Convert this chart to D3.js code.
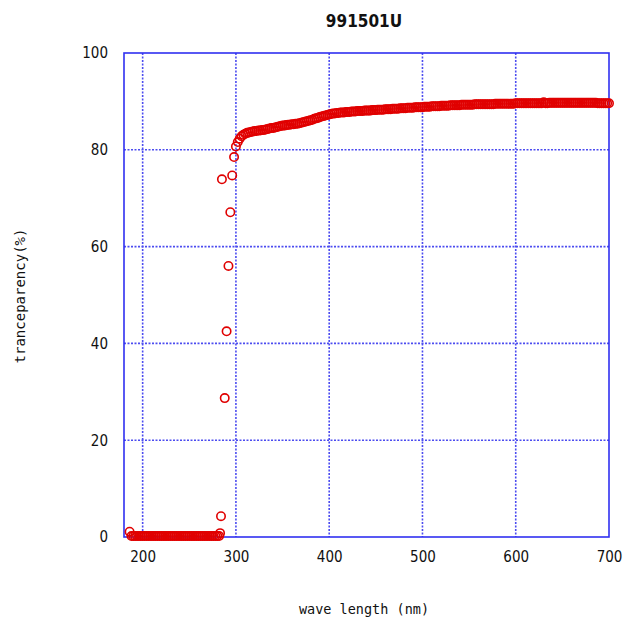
<!DOCTYPE html>
<html>
<head>
<meta charset="utf-8">
<script src="https://cdn.jsdelivr.net/npm/d3@7"></script>
<style>
  body { margin: 0; background: #fff; }
</style>
</head>
<body>
<svg id="chart" width="632" height="623"></svg>
<script>
// steep edge + UV cut-off region, wavelengths read one by one
const edgeWave = [186, 283, 284, 285, 288, 290, 292, 294, 296, 298];
const edgeTrans = [1.1, 0.8, 4.3, 73.9, 28.7, 42.5, 56.0, 67.1, 74.7, 78.5];

// blocked region 188..282 nm (2 nm sampling)
const lowWave = d3.range(188, 283, 2);
const lowTrans = [
  0.2, 0.2, 0.2, 0.2, 0.2, 0.2, 0.2, 0.2, 0.2, 0.2,
  0.2, 0.2, 0.2, 0.2, 0.2, 0.2, 0.2, 0.2, 0.2, 0.2,
  0.2, 0.2, 0.2, 0.2, 0.2, 0.2, 0.2, 0.2, 0.2, 0.2,
  0.2, 0.2, 0.2, 0.2, 0.2, 0.2, 0.2, 0.2, 0.2, 0.2,
  0.2, 0.2, 0.2, 0.2, 0.2, 0.2, 0.2, 0.2
];

// plateau 300..700 nm (2 nm sampling)
const highWave = d3.range(300, 701, 2);
const highTrans = [
  80.7, 81.6, 82.3, 82.8, 83.1, 83.3, 83.5, 83.6, 83.7, 83.8,
  83.9, 83.9, 84.0, 84.0, 84.1, 84.1, 84.2, 84.3, 84.4, 84.5,
  84.5, 84.6, 84.7, 84.8, 84.9, 85.0, 85.0, 85.1, 85.2, 85.2,
  85.3, 85.3, 85.4, 85.4, 85.5, 85.6, 85.7, 85.8, 85.9, 86.0,
  86.1, 86.2, 86.4, 86.5, 86.6, 86.8, 86.9, 87.0, 87.1, 87.2,
  87.3, 87.4, 87.5, 87.5, 87.6, 87.6, 87.7, 87.7, 87.7, 87.8,
  87.8, 87.8, 87.9, 87.9, 87.9, 88.0, 88.0, 88.0, 88.0, 88.1,
  88.1, 88.1, 88.1, 88.2, 88.2, 88.2, 88.3, 88.3, 88.3, 88.3,
  88.4, 88.4, 88.4, 88.4, 88.5, 88.5, 88.5, 88.5, 88.6, 88.6,
  88.6, 88.6, 88.7, 88.7, 88.7, 88.7, 88.8, 88.8, 88.8, 88.8,
  88.8, 88.9, 88.9, 88.9, 88.9, 89.0, 89.0, 89.0, 89.0, 89.0,
  89.1, 89.1, 89.1, 89.1, 89.1, 89.2, 89.2, 89.2, 89.2, 89.2,
  89.2, 89.3, 89.3, 89.3, 89.3, 89.3, 89.3, 89.3, 89.4, 89.4,
  89.4, 89.4, 89.4, 89.4, 89.4, 89.4, 89.4, 89.4, 89.4, 89.5,
  89.5, 89.5, 89.5, 89.5, 89.5, 89.5, 89.5, 89.5, 89.5, 89.5,
  89.6, 89.6, 89.6, 89.6, 89.6, 89.6, 89.6, 89.6, 89.6, 89.6,
  89.6, 89.6, 89.6, 89.6, 89.6, 89.8, 89.6, 89.6, 89.7, 89.7,
  89.7, 89.7, 89.7, 89.7, 89.7, 89.7, 89.7, 89.7, 89.7, 89.7,
  89.7, 89.7, 89.7, 89.7, 89.7, 89.7, 89.7, 89.7, 89.7, 89.7,
  89.7, 89.7, 89.7, 89.7, 89.6, 89.6, 89.6, 89.6, 89.6, 89.6,
  89.6
];

const xTicks = [200, 300, 400, 500, 600, 700];
const yTicks = [0, 20, 40, 60, 80, 100];

const points = []
  .concat(edgeWave.map((w, i) => ({ wave: w, trans: edgeTrans[i] })))
  .concat(lowWave.map((w, i) => ({ wave: w, trans: lowTrans[i] })))
  .concat(highWave.map((w, i) => ({ wave: w, trans: highTrans[i] })));

const margin = { top: 53, right: 23, bottom: 86, left: 124 };
const width = 632 - margin.left - margin.right;
const height = 623 - margin.top - margin.bottom;

const svg = d3.select("#chart");
const g = svg.append("g").attr("transform", `translate(${margin.left},${margin.top})`);

const x = d3.scaleLinear().domain([180, 700]).range([0, width]);
const y = d3.scaleLinear().domain([0, 100]).range([height, 0]);

const gridColor = "#4c4cf0";
const frameColor = "#3030f0";
const tickFont = "'Liberation Sans Narrow', 'DejaVu Sans Condensed', sans-serif";

// grid
g.append("g")
  .selectAll("line")
  .data(xTicks.slice(0, -1))
  .join("line")
  .attr("x1", (d) => x(d))
  .attr("x2", (d) => x(d))
  .attr("y1", 0)
  .attr("y2", height)
  .attr("stroke", gridColor)
  .attr("stroke-width", 1.6)
  .attr("stroke-dasharray", "2,1.5");

g.append("g")
  .selectAll("line")
  .data(yTicks.slice(1, -1))
  .join("line")
  .attr("x1", 0)
  .attr("x2", width)
  .attr("y1", (d) => y(d))
  .attr("y2", (d) => y(d))
  .attr("stroke", gridColor)
  .attr("stroke-width", 1.6)
  .attr("stroke-dasharray", "2,1.5");

// frame
g.append("rect")
  .attr("width", width)
  .attr("height", height)
  .attr("fill", "none")
  .attr("stroke", frameColor)
  .attr("stroke-width", 1.6);

// tick labels
const xAxis = g.append("g")
  .attr("transform", `translate(0,${height})`)
  .call(d3.axisBottom(x).tickValues(xTicks).tickSize(0).tickPadding(14));
const yAxis = g.append("g")
  .call(d3.axisLeft(y).tickValues(yTicks).tickSize(0).tickPadding(16));
[xAxis, yAxis].forEach((a) => {
  a.select(".domain").remove();
  a.selectAll("text")
    .attr("fill", "#111")
    .style("font-family", tickFont)
    .style("font-size", "15px");
});

// markers
g.append("g")
  .selectAll("circle")
  .data(points)
  .join("circle")
  .attr("cx", (d) => x(d.wave))
  .attr("cy", (d) => y(d.trans))
  .attr("r", 4.2)
  .attr("fill", "none")
  .attr("stroke", "#e00000")
  .attr("stroke-width", 1.6);

// title
svg.append("text")
  .attr("x", 364)
  .attr("y", 27)
  .attr("text-anchor", "middle")
  .style("font-family", tickFont)
  .style("font-weight", "bold")
  .style("font-size", "17px")
  .attr("fill", "#111")
  .text("991501U");

// axis labels
svg.append("text")
  .attr("x", 364)
  .attr("y", 614)
  .attr("text-anchor", "middle")
  .style("font-family", "'DejaVu Sans Mono', monospace")
  .style("font-size", "13.5px")
  .attr("fill", "#111")
  .text("wave length (nm)");

svg.append("text")
  .attr("transform", "translate(25,296) rotate(-90)")
  .attr("text-anchor", "middle")
  .style("font-family", "'DejaVu Sans Mono', monospace")
  .style("font-size", "14px")
  .attr("fill", "#111")
  .text("tranceparency(%)");
</script>
</body>
</html>
